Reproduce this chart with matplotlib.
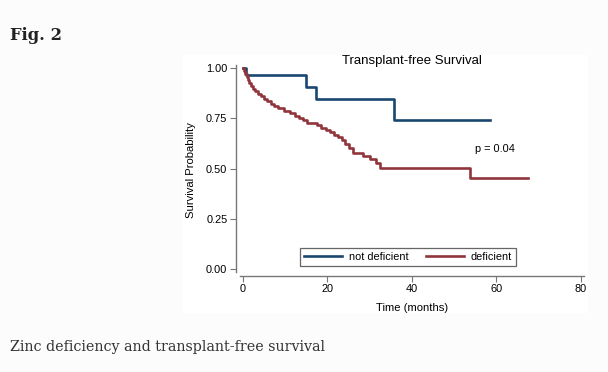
import matplotlib
matplotlib.use("Agg")
import matplotlib.pyplot as plt
from matplotlib.patches import Rectangle

# Kaplan-Meier steps (months, survival probability)
not_def_time = [0.0, 0.7, 15.0, 17.3, 35.8]
not_def_surv = [1.0, 0.964, 0.905, 0.846, 0.742]
not_def_end = 58.4

def_time = [0.0, 0.3, 0.6, 0.9, 1.2, 1.6, 2.0, 2.5, 3.0, 3.6, 4.3, 5.0, 5.8,
            6.6, 7.4, 8.4, 9.8, 11.2, 12.4, 13.4, 14.3, 15.2, 17.6, 18.6,
            19.6, 20.6, 21.6, 22.6, 23.5, 24.2, 25.2, 26.0, 28.5, 30.2,
            31.5, 32.4, 53.8]
def_surv = [1.0, 0.985, 0.97, 0.955, 0.94, 0.925, 0.91, 0.897, 0.885, 0.872,
            0.86, 0.848, 0.836, 0.824, 0.812, 0.80, 0.788, 0.776, 0.764,
            0.752, 0.740, 0.728, 0.716, 0.704, 0.692, 0.68, 0.668, 0.656,
            0.64, 0.625, 0.605, 0.58, 0.564, 0.548, 0.528, 0.505, 0.451]
def_end = 67.4

x_ticks = [0, 20, 40, 60, 80]
y_ticks = [0.0, 0.25, 0.5, 0.75, 1.0]
y_tick_labels = ["0.00", "0.25", "0.50", "0.75", "1.00"]

W, H = 608, 372
BLUE = "#1a476f"
RED = "#90353b"
SANS = ["Liberation Sans", "DejaVu Sans"]

fig = plt.figure(figsize=(W / 100, H / 100), dpi=100, facecolor="#fcfcfc")
# white graph region
fig.patches.append(Rectangle((183 / W, 1 - 313 / H), (588 - 183) / W, (313 - 55) / H,
                             transform=fig.transFigure, facecolor="white",
                             edgecolor="none", zorder=-1))

ax = fig.add_axes([240 / W, 1 - 272 / H, 344 / W, 207 / H])
ax.set_zorder(2)
ax.set_facecolor("none")

ax.step(not_def_time + [not_def_end], not_def_surv + [not_def_surv[-1]],
        where="post", color=BLUE, lw=1.9, label="not deficient")
ax.step(def_time + [def_end], def_surv + [def_surv[-1]],
        where="post", color=RED, lw=1.9, label="deficient")

ax.set_xlim(-0.64, 80.7)
ax.set_ylim(-0.015, 1.016)
ax.set_xticks(x_ticks)
ax.set_yticks(y_ticks)
ax.set_yticklabels(y_tick_labels)

for s in ["top", "right"]:
    ax.spines[s].set_visible(False)
for s in ["left", "bottom"]:
    ax.spines[s].set_position(("outward", 3))
    ax.spines[s].set_color("#777777")
    ax.spines[s].set_linewidth(1.0)
ax.tick_params(axis="both", length=4, width=0.8, color="#777777",
               labelsize=7.9, pad=2)
for lab in ax.get_xticklabels() + ax.get_yticklabels():
    lab.set_family(SANS)

ax.text(54.9, 0.596, "p = 0.04", fontsize=7.9, family=SANS, va="center")

leg = ax.legend(loc="center", bbox_to_anchor=(0.488, 0.072), ncol=2,
                prop={"family": SANS, "size": 7.8}, handlelength=3.5,
                handletextpad=0.65, columnspacing=1.6, borderpad=0.35,
                fancybox=False, framealpha=1)
leg.get_frame().set_edgecolor("#666666")
leg.get_frame().set_linewidth(0.9)

fig.text(412 / W, 1 - 61 / H, "Transplant-free Survival", ha="center", va="center",
         fontsize=9.5, family=SANS)
fig.text(412 / W, 1 - 308 / H, "Time (months)", ha="center", va="center",
         fontsize=8.1, family=SANS)
fig.text(191 / W, 1 - 170 / H, "Survival Probability", ha="center", va="center",
         rotation=90, fontsize=8.1, family=SANS)

fig.text(10 / W, 1 - 35 / H, "Fig. 2", ha="left", va="center", fontsize=11.8,
         fontweight="bold", family="DejaVu Serif", color="#222222")
fig.text(10 / W, 1 - 347 / H, "Zinc deficiency and transplant-free survival",
         ha="left", va="center", fontsize=10.3, family="DejaVu Serif", color="#333333")

fig.savefig("out.png", dpi=100, facecolor=fig.get_facecolor())
